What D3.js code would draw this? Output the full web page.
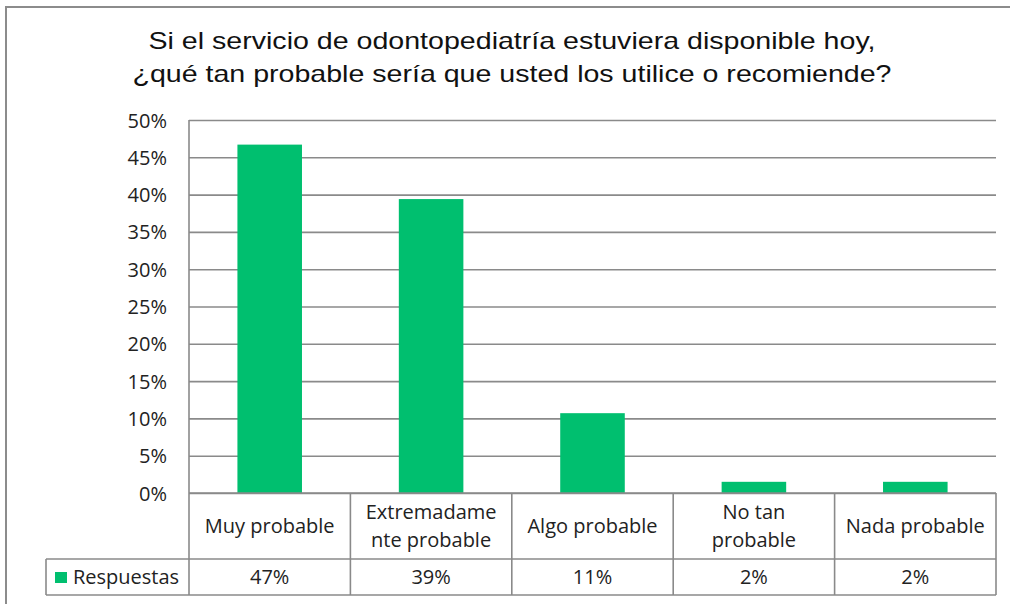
<!DOCTYPE html>
<html>
<head>
<meta charset="utf-8">
<script src="https://cdn.jsdelivr.net/npm/d3@7"></script>
<style>
  html, body { margin: 0; padding: 0; background: #fff; }
  svg { display: block; }
</style>
</head>
<body>
<svg id="chart" width="1010" height="604"></svg>
<script>
// Survey answers: likelihood of using / recommending the pediatric dentistry service
const titleLines = [
  "Si el servicio de odontopediatría estuviera disponible hoy,",
  "¿qué tan probable sería que usted los utilice o recomiende?"
];
const categories = [
  "Muy probable",
  "Extremadamente probable",
  "Algo probable",
  "No tan probable",
  "Nada probable"
];
// How each category name wraps inside its table cell
const categoryLabelLines = [
  ["Muy probable"],
  ["Extremadame", "nte probable"],
  ["Algo probable"],
  ["No tan", "probable"],
  ["Nada probable"]
];
const seriesName = "Respuestas";
const respuestas = [0.467, 0.394, 0.107, 0.015, 0.015];
const yTicks = [0, 0.05, 0.10, 0.15, 0.20, 0.25, 0.30, 0.35, 0.40, 0.45, 0.50];

const svg = d3.select("#chart");
const W = 1010, H = 604;
const green = "#00bf6f";
const lineGray = "#8a8a8a";
const font = "'Open Sans', sans-serif";

const plot = { left: 189, right: 996, top: 120, bottom: 493 };
const table = { legendLeft: 46, headerBottom: 559, bottom: 595 };

// outer chart frame
svg.append("rect")
  .attr("x", 6).attr("y", 7)
  .attr("width", W + 10).attr("height", H + 10)
  .attr("fill", "#fff")
  .attr("stroke", "#8c8c8c").attr("stroke-width", 2);

// title, stretched to its wide set width
const titleWidths = [727, 759];
svg.append("g")
  .selectAll("text")
  .data(titleLines)
  .join("text")
  .attr("x", 512)
  .attr("y", (d, i) => 49 + i * 33)
  .attr("text-anchor", "middle")
  .attr("font-family", "'Liberation Sans', Arial, sans-serif")
  .attr("font-size", 24)
  .attr("fill", "#111")
  .attr("textLength", (d, i) => titleWidths[i])
  .attr("lengthAdjust", "spacingAndGlyphs")
  .text(d => d);

const x = d3.scaleBand()
  .domain(categories)
  .range([plot.left, plot.right])
  .padding(0);

const y = d3.scaleLinear()
  .domain([0, 0.5])
  .range([plot.bottom, plot.top]);

// gridlines + tick labels
const yAxis = d3.axisLeft(y)
  .tickValues(yTicks)
  .tickFormat(d3.format(".0%"))
  .tickSize(-(plot.right - plot.left))
  .tickPadding(22);

const gy = svg.append("g")
  .attr("transform", `translate(${plot.left},0)`)
  .call(yAxis);
gy.select(".domain").remove();
gy.selectAll(".tick line")
  .attr("stroke", lineGray)
  .attr("stroke-width", 1.6);
gy.selectAll(".tick text")
  .attr("font-family", font)
  .attr("font-size", 20)
  .attr("fill", "#222")
  .attr("dy", "0.35em");

// bars
const barW = x.bandwidth() * 0.4;
svg.append("g")
  .selectAll("rect")
  .data(respuestas)
  .join("rect")
  .attr("x", (d, i) => x(categories[i]) + (x.bandwidth() - barW) / 2)
  .attr("y", d => y(d))
  .attr("width", barW)
  .attr("height", d => y(0) - y(d))
  .attr("fill", green);

// data table grid
const grid = svg.append("g")
  .attr("stroke", lineGray)
  .attr("stroke-width", 1.6)
  .attr("fill", "none");

// vertical axis line running down through the table
grid.append("line")
  .attr("x1", plot.left).attr("x2", plot.left)
  .attr("y1", plot.top).attr("y2", table.bottom);
// horizontal rules
grid.append("line")
  .attr("x1", plot.left).attr("x2", plot.right)
  .attr("y1", plot.bottom).attr("y2", plot.bottom);
grid.append("line")
  .attr("x1", table.legendLeft).attr("x2", plot.right)
  .attr("y1", table.headerBottom).attr("y2", table.headerBottom);
grid.append("line")
  .attr("x1", table.legendLeft).attr("x2", plot.right)
  .attr("y1", table.bottom).attr("y2", table.bottom);
grid.append("line")
  .attr("x1", table.legendLeft).attr("x2", table.legendLeft)
  .attr("y1", table.headerBottom).attr("y2", table.bottom);
// column separators
grid.selectAll("line.col")
  .data(categories)
  .join("line")
  .attr("class", "col")
  .attr("x1", d => x(d) + x.bandwidth())
  .attr("x2", d => x(d) + x.bandwidth())
  .attr("y1", plot.bottom).attr("y2", table.bottom);

// category header cells
const headerMid = (plot.bottom + table.headerBottom) / 2;
const lineGap = 28;
const header = svg.append("g")
  .attr("font-family", font)
  .attr("font-size", 20)
  .attr("fill", "#222")
  .attr("text-anchor", "middle");
categories.forEach((c, i) => {
  const lines = categoryLabelLines[i];
  const t = header.append("text")
    .attr("x", x(c) + x.bandwidth() / 2);
  lines.forEach((ln, j) => {
    t.append("tspan")
      .attr("x", x(c) + x.bandwidth() / 2)
      .attr("y", headerMid + (j - (lines.length - 1) / 2) * lineGap)
      .attr("dy", "0.35em")
      .text(ln);
  });
});

// value row
const rowMid = (table.headerBottom + table.bottom) / 2;
svg.append("g")
  .selectAll("text")
  .data(respuestas)
  .join("text")
  .attr("x", (d, i) => x(categories[i]) + x.bandwidth() / 2)
  .attr("y", rowMid)
  .attr("dy", "0.35em")
  .attr("text-anchor", "middle")
  .attr("font-family", font)
  .attr("font-size", 20)
  .attr("fill", "#222")
  .text(d => d3.format(".0%")(d));

// legend key inside the row header cell
svg.append("rect")
  .attr("x", 55).attr("y", rowMid - 5)
  .attr("width", 12).attr("height", 11)
  .attr("fill", green);
svg.append("text")
  .attr("x", 73)
  .attr("y", rowMid)
  .attr("dy", "0.35em")
  .attr("font-family", font)
  .attr("font-size", 20)
  .attr("fill", "#222")
  .text(seriesName);
</script>
</body>
</html>
